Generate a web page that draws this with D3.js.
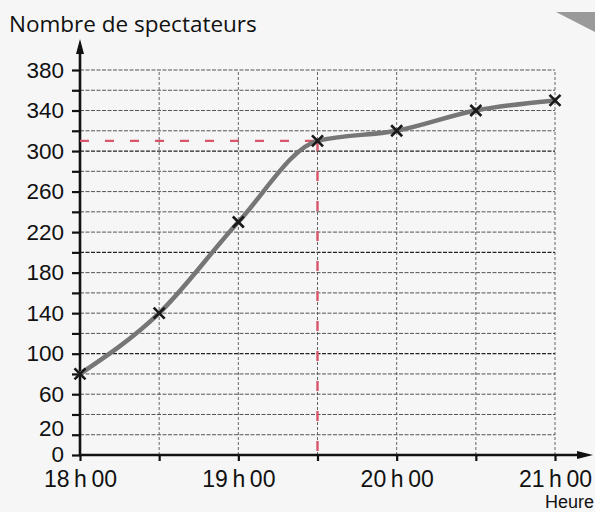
<!DOCTYPE html>
<meta charset="utf-8">
<script src="https://d3js.org/d3.v7.min.js"></script>
<style>
  body { margin: 0; background: #f6f6f6; }
  svg { display: block; }
</style>
<div id="chart"></div>
<script>
    // data
    const hours = [18, 18.5, 19, 19.5, 20, 20.5, 21];
    const spectators = [80, 140, 230, 310, 320, 340, 350];
    const yLabels = [0, 20, 60, 100, 140, 180, 220, 260, 300, 340, 380];
    const xLabels = ["18\u2009h\u200900", "19\u2009h\u200900", "20\u2009h\u200900", "21\u2009h\u200900"];
    const readHour = 19.5, readValue = 310;

    const W = 595, H = 512;
    const margin = { top: 70, right: 40, bottom: 57, left: 80 };
    const width = W - margin.left - margin.right,
        height = H - margin.top - margin.bottom;

    const svg = d3.select("#chart")
        .append("svg")
        .attr("width", W)
        .attr("height", H);

    // scanned page corner
    svg.append("polygon")
        .attr("points", "556,12 595,12 595,32")
        .attr("fill", "#9a9a9a");

    const g = svg.append("g")
        .attr("transform", `translate(${margin.left}, ${margin.top})`);

    const x = d3.scaleLinear().domain([18, 21]).range([0, width]);
    const y = d3.scaleLinear().domain([0, 380]).range([height, 0]);

    // grid
    g.append("g")
        .selectAll("line")
        .data(d3.range(20, 381, 20))
        .join("line")
        .attr("x1", 0).attr("x2", width)
        .attr("y1", d => y(d)).attr("y2", d => y(d))
        .attr("stroke", d => d % 100 === 0 ? "#222" : "#555")
        .attr("stroke-width", d => d % 100 === 0 ? 1.3 : 1)
        .attr("stroke-dasharray", "4 1.5");

    g.append("g")
        .selectAll("line")
        .data(d3.range(18.5, 21.01, 0.5))
        .join("line")
        .attr("x1", d => x(d)).attr("x2", d => x(d))
        .attr("y1", y(0)).attr("y2", y(380))
        .attr("stroke", "#555")
        .attr("stroke-width", 0.9)
        .attr("stroke-dasharray", "3 2");

    // axes
    const yAxis = g.append("g")
        .call(d3.axisLeft(y)
            .tickValues(d3.range(0, 381, 20))
            .tickSize(8)
            .tickPadding(8)
            .tickFormat(d => yLabels.includes(d) ? d : ""));

    const xAxis = g.append("g")
        .attr("transform", `translate(0, ${height})`)
        .call(d3.axisBottom(x)
            .tickValues(d3.range(18, 21.01, 0.5))
            .tickSize(6)
            .tickPadding(9.5)
            .tickFormat(d => Number.isInteger(d) ? xLabels[d - 18] : ""));

    [yAxis, xAxis].forEach(a => {
        a.select(".domain").remove();
        a.selectAll(".tick line").attr("stroke", "#111").attr("stroke-width", 2.2);
        a.selectAll("text")
            .attr("fill", "#111")
            .style("font-family", "'Liberation Sans', Arial, sans-serif");
    });
    xAxis.selectAll("text").style("font-size", "23px");
    yAxis.selectAll("text").style("font-size", "22.5px")
        // the two lowest labels sit very close together, as in the print
        .attr("dy", d => d === 0 ? "6px" : d === 20 ? "0.5px" : "0.32em");

    // axis lines with arrows
    g.append("line")
        .attr("x1", 0).attr("x2", 0)
        .attr("y1", y(0) + 1).attr("y2", y(380) - 16)
        .attr("stroke", "#111").attr("stroke-width", 2.6);
    g.append("path")
        .attr("d", `M-4,${y(380) - 16} L4,${y(380) - 16} L0,${y(380) - 31} Z`)
        .attr("fill", "#111");

    g.append("line")
        .attr("x1", -1).attr("x2", width + 24)
        .attr("y1", y(0)).attr("y2", y(0))
        .attr("stroke", "#111").attr("stroke-width", 2.6);
    g.append("path")
        .attr("d", `M${width + 22},${y(0) - 4} L${width + 22},${y(0) + 4} L${width + 38},${y(0)} Z`)
        .attr("fill", "#111");

    // red reading lines
    g.append("line")
        .attr("x1", x(18)).attr("x2", x(readHour))
        .attr("y1", y(readValue)).attr("y2", y(readValue))
        .attr("stroke", "#d9566a").attr("stroke-width", 2.4)
        .attr("stroke-dasharray", "9 16");
    g.append("line")
        .attr("x1", x(readHour)).attr("x2", x(readHour))
        .attr("y1", y(readValue)).attr("y2", y(0))
        .attr("stroke", "#d9566a").attr("stroke-width", 2.4)
        .attr("stroke-dasharray", "10 20");

    // curve
    const line = d3.line()
        .x((d, i) => x(hours[i]))
        .y(d => y(d))
        .curve(d3.curveMonotoneX);

    g.append("path")
        .datum(spectators)
        .attr("fill", "none")
        .attr("stroke", "#767676")
        .attr("stroke-width", 4.5)
        .attr("stroke-linecap", "round")
        .attr("d", line);

    // cross markers
    const s = 5.5;
    g.append("g")
        .selectAll("path")
        .data(spectators)
        .join("path")
        .attr("d", (d, i) => {
            const cx = x(hours[i]), cy = y(d);
            return `M${cx - s},${cy - s}L${cx + s},${cy + s}M${cx - s},${cy + s}L${cx + s},${cy - s}`;
        })
        .attr("stroke", "#1a1a1a")
        .attr("stroke-width", 2.6);

    // titles
    svg.append("text")
        .attr("x", 9)
        .attr("y", 32)
        .style("font-family", "'Open Sans', sans-serif")
        .style("font-size", "22.5px")
        .attr("fill", "#111")
        .text("Nombre de spectateurs");

    svg.append("text")
        .attr("x", 594)
        .attr("y", 507.8)
        .attr("text-anchor", "end")
        .style("font-family", "'Liberation Sans', Arial, sans-serif")
        .style("font-size", "18px")
        .attr("fill", "#111")
        .text("Heure");
</script>
